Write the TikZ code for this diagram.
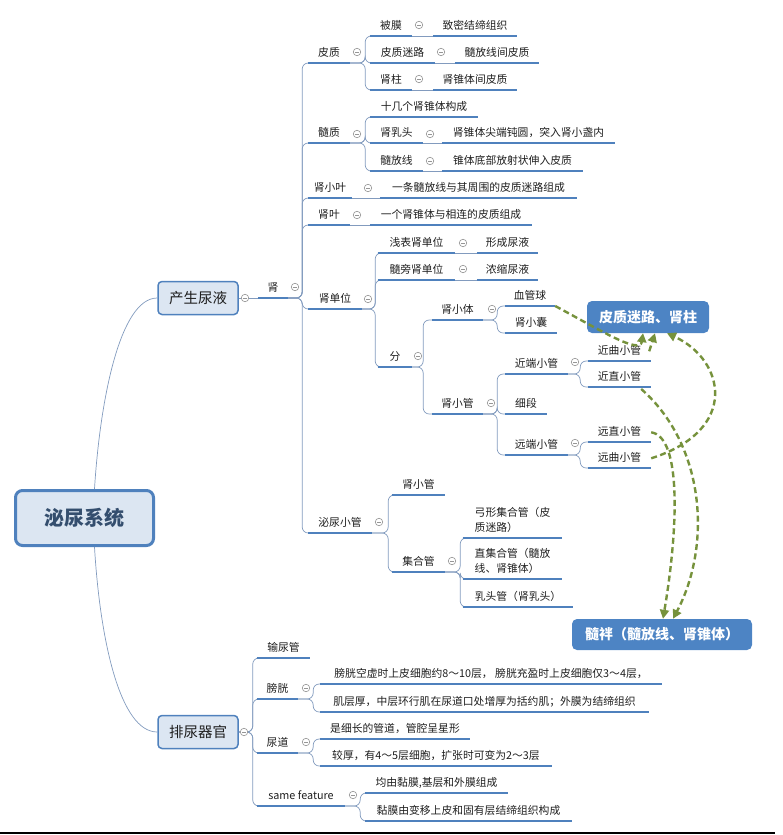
\documentclass[tikz,border=0pt]{standalone}
\usepackage{fontspec}
\setmainfont{Noto Sans CJK SC}
\usetikzlibrary{arrows.meta}
\definecolor{ulblue}{RGB}{79,129,189}
\definecolor{conncol}{RGB}{130,155,190}
\definecolor{olivec}{RGB}{118,146,60}
\definecolor{boxfill}{RGB}{220,230,242}
\definecolor{callblue}{RGB}{77,132,196}
\definecolor{roottext}{RGB}{52,78,110}
\definecolor{foldcol}{RGB}{150,150,150}
\definecolor{txt}{RGB}{30,30,30}
\begin{document}
\begin{tikzpicture}[x=1pt,y=-1pt,
  topic/.style={anchor=south, inner xsep=0pt, inner ysep=4pt, text height=8.5pt, text depth=2.5pt, minimum width=#1pt, font=\fontsize{10.8pt}{15pt}\selectfont, text=txt},
  topictwo/.style={topic=#1, text height=23.5pt, align=left},
  uline/.style={draw=ulblue, line width=2.2pt},
  conn/.style={draw=conncol, line width=0.7pt, rounded corners=6pt},
  elbow/.style={to path={-- ++(#1,0) |- (\tikztotarget)}},
  fold/.style={circle, draw=foldcol, fill=white, line width=0.6pt, inner sep=0pt, minimum size=7.5pt, path picture={\draw[foldcol, line width=0.6pt] ([xshift=-2.2pt]path picture bounding box.center) -- ([xshift=2.2pt]path picture bounding box.center);}},
  mainbox/.style={draw=ulblue, fill=boxfill, rounded corners=4pt, line width=1.5pt, minimum width=80pt, minimum height=33pt, inner sep=0pt, font=\fontsize{14.5pt}{17pt}\selectfont, text=txt},
  rootbox/.style={draw=ulblue, fill=boxfill, rounded corners=7pt, line width=3pt, minimum width=138pt, minimum height=55pt, inner sep=0pt, font=\fontsize{20pt}{24pt}\selectfont\bfseries, text=roottext},
  callbox/.style={fill=callblue, rounded corners=5pt, inner sep=0pt, text=white, font=\fontsize{14pt}{17pt}\selectfont\bfseries},
  dasharrow/.style={draw=olivec, line width=2.4pt, dash pattern=on 6pt off 3.5pt, -{Triangle[length=9pt,width=9pt]}},
]
\useasboundingbox (0,0) rectangle (783,835);

% main boxes
\node[rootbox] (root) at (84.5,518) {泌尿系统};
\node[mainbox] (csny) at (198,298) {产生尿液};
\node[mainbox] (pnqg) at (198,732) {排尿器官};

% level: 肾
\node[topic=30] (shen) at (273,298) {肾};
\node[topic=42] (pz) at (329,63) {皮质};
\node[topic=42] (sz) at (329,143) {髓质};
\node[topic=44] (sxy) at (330,198) {肾小叶};
\node[topic=42] (sy) at (329,225) {肾叶};
\node[topic=54] (sdw) at (335,309) {肾单位};
\node[topic=64] (mnxg) at (340,533) {泌尿小管};

% 皮质
\node[topic=42] (bm) at (391,36) {被膜};
\node[topic=84] (bm1) at (475,36) {致密结缔组织};
\node[topic=65] (ml) at (402.5,63) {皮质迷路};
\node[topic=84] (ml1) at (497,63) {髓放线间皮质};
\node[topic=42] (zz) at (391,90) {肾柱};
\node[topic=84] (zz1) at (475,90) {肾锥体间皮质};

% 髓质
\node[topic=108] (sj) at (424,117) {十几个肾锥体构成};
\node[topic=53] (rt) at (396.5,143) {肾乳头};
\node[topic=173] (rt1) at (528.5,143) {肾锥体尖端钝圆，突入肾小盏内};
\node[topic=53] (fs) at (396.5,171) {髓放线};
\node[topic=141] (fs1) at (512.5,171) {锥体底部放射状伸入皮质};

\node[topic=197] (sxy1) at (478.5,198) {一条髓放线与其周围的皮质迷路组成};
\node[topic=162] (sy1) at (451,225) {一个肾锥体与相连的皮质组成};

% 肾单位
\node[topic=77] (qb) at (416.5,253) {浅表肾单位};
\node[topic=61] (qb1) at (507.5,253) {形成尿液};
\node[topic=77] (sp) at (416.5,280) {髓旁肾单位};
\node[topic=61] (sp1) at (507.5,280) {浓缩尿液};
\node[topic=34] (fen) at (395,367) {分};
\node[topic=51] (xt) at (457.5,320) {肾小体};
\node[topic=51] (xg) at (457.5,414) {肾小管};
\node[topic=50] (xgq) at (530,306) {血管球};
\node[topic=52] (xn) at (531,333) {肾小囊};
\node[topic=63] (jd) at (536.5,374) {近端小管};
\node[topic=42] (xd) at (526,414) {细段};
\node[topic=63] (yd) at (536.5,455) {远端小管};
\node[topic=63] (jq) at (619.5,361) {近曲小管};
\node[topic=63] (jz) at (619.5,387) {近直小管};
\node[topic=63] (yz) at (619.5,442) {远直小管};
\node[topic=63] (yq) at (619.5,468) {远曲小管};

% 泌尿小管
\node[topic=53] (xg2) at (418.5,495) {肾小管};
\node[topic=53] (jhg) at (418.5,572) {集合管};
\node[topictwo=99] (gx) at (512.5,538) {弓形集合管（皮\\质迷路）};
\node[topictwo=99] (zj) at (512.5,579) {直集合管（髓放\\线、肾锥体）};
\node[topic=110] (rtg) at (518,607) {乳头管（肾乳头）};

% 排尿器官
\node[topic=53] (sng) at (283.5,658) {输尿管};
\node[topic=41] (pg) at (277.5,699) {膀胱};
\node[topic=41] (nd) at (277.5,753) {尿道};
\node[topic=88] (sf) at (301,806) {same feature};
\node[topic=342] (pg1) at (491,684) {膀胱空虚时上皮细胞约8～10层， 膀胱充盈时上皮细胞仅3～4层，};
\node[topic=329] (pg2) at (484.5,712) {肌层厚，中层环行肌在尿道口处增厚为括约肌；外膜为结缔组织};
\node[topic=150] (nd1) at (395,739) {是细长的管道，管腔呈星形};
\node[topic=232] (nd2) at (436,766) {较厚，有4～5层细胞，扩张时可变为2～3层};
\node[topic=143] (sf1) at (436.5,793) {均由黏膜,基层和外膜组成};
\node[topic=207] (sf2) at (468.5,821) {黏膜由变移上皮和固有层结缔组织构成};

% callouts
\node[callbox, minimum width=122pt, minimum height=32pt] (cb1) at (648,317) {皮质迷路、肾柱};
\node[callbox, minimum width=180pt, minimum height=31pt] (cb2) at (662,634.5) {髓袢（髓放线、肾锥体）};

% connectors
\draw[conn] ([xshift=10pt]root.north) .. controls (100,400) and (120,298) .. (csny.west);
\draw[conn] ([xshift=10pt]root.south) .. controls (100,640) and (120,732) .. (pnqg.west);
\draw[conn] (csny.east) -- (shen.south west);
\foreach \c in {pz,sz,sxy,sy,sdw,mnxg} \draw[conn] (shen.south east) to[elbow=14] (\c.south west);
\foreach \c in {bm,ml,zz} \draw[conn] (pz.south east) to[elbow=15] (\c.south west);
\foreach \c in {sj,rt,fs} \draw[conn] (sz.south east) to[elbow=15] (\c.south west);
\draw[conn] (sxy.south east) -- (sxy1.south west);
\draw[conn] (sy.south east) -- (sy1.south west);
\draw[conn] (bm.south east) -- (bm1.south west);
\draw[conn] (ml.south east) -- (ml1.south west);
\draw[conn] (zz.south east) -- (zz1.south west);
\draw[conn] (rt.south east) -- (rt1.south west);
\draw[conn] (fs.south east) -- (fs1.south west);
\draw[conn] (qb.south east) -- (qb1.south west);
\draw[conn] (sp.south east) -- (sp1.south west);
\foreach \c in {qb,sp,fen} \draw[conn] (sdw.south east) to[elbow=13] (\c.south west);
\foreach \c in {xt,xg} \draw[conn] (fen.south east) to[elbow=11] (\c.south west);
\foreach \c in {xgq,xn} \draw[conn] (xt.south east) to[elbow=14] (\c.south west);
\foreach \c in {jd,xd,yd} \draw[conn] (xg.south east) to[elbow=14] (\c.south west);
\foreach \c in {jq,jz} \draw[conn] (jd.south east) to[elbow=12] (\c.south west);
\foreach \c in {yz,yq} \draw[conn] (yd.south east) to[elbow=12] (\c.south west);
\foreach \c in {xg2,jhg} \draw[conn] (mnxg.south east) to[elbow=16] (\c.south west);
\foreach \c in {gx,zj,rtg} \draw[conn] (jhg.south east) to[elbow=15] (\c.south west);
\foreach \c in {sng,pg,nd,sf} \draw[conn] (pnqg.east) to[elbow=14] (\c.south west);
\foreach \c in {pg1,pg2} \draw[conn] (pg.south east) to[elbow=15] (\c.south west);
\foreach \c in {nd1,nd2} \draw[conn] (nd.south east) to[elbow=15] (\c.south west);
\foreach \c in {sf1,sf2} \draw[conn] (sf.south east) to[elbow=15] (\c.south west);

% underlines
\foreach \n in {shen,pz,sz,sxy,sy,sdw,mnxg,bm,bm1,ml,ml1,zz,zz1,sj,rt,rt1,fs,fs1,sxy1,sy1,qb,qb1,sp,sp1,fen,xt,xg,xgq,xn,jd,xd,yd,jq,jz,yz,yq,xg2,jhg,gx,zj,rtg,sng,pg,nd,sf,pg1,pg2,nd1,nd2,sf1,sf2}
  \draw[uline] (\n.south west) -- (\n.south east);

% fold markers
\node[fold] (f0) at (245,298) {};
\node[fold] (f1) at (244,732) {};
\node[fold] (f2) at (295,287) {};
\node[fold] (f3) at (357,52) {};
\node[fold] (f4) at (419,25) {};
\node[fold] (f5) at (441,52) {};
\node[fold] (f6) at (419,79) {};
\node[fold] (f7) at (357,134) {};
\node[fold] (f8) at (430,134) {};
\node[fold] (f9) at (430,161) {};
\node[fold] (f10) at (368,188) {};
\node[fold] (f11) at (357,215) {};
\node[fold] (f12) at (368,299) {};
\node[fold] (f13) at (463,243) {};
\node[fold] (f14) at (463,269) {};
\node[fold] (f15) at (418,356) {};
\node[fold] (f16) at (492,309) {};
\node[fold] (f17) at (491,403) {};
\node[fold] (f18) at (575,362) {};
\node[fold] (f19) at (575,443) {};
\node[fold] (f20) at (379,522) {};
\node[fold] (f21) at (452,561) {};
\node[fold] (f22) at (306,688) {};
\node[fold] (f23) at (306,742) {};
\node[fold] (f24) at (353,795) {};

% dashed relation arrows
\draw[dasharrow] (xgq.south east) .. controls (600,330) and (640,355) .. ([xshift=-5pt]cb1.south);
\draw[dasharrow] ([xshift=-2pt]jq.east) -- ([xshift=7pt]cb1.south);
\draw[dasharrow] (yq.east) .. controls (740,430) and (725,360) .. ([xshift=19pt]cb1.south);
\draw[dasharrow] ([xshift=-10pt,yshift=-2pt]jz.south east) .. controls (705,445) and (712,545) .. ([xshift=11pt]cb2.north);
\draw[dasharrow] (yz.east) .. controls (682,437) and (678,530) .. ([xshift=1pt]cb2.north);

% bottom rule
\draw[line width=1.5pt] (0,833) -- (775,833);
\end{tikzpicture}
\end{document}
